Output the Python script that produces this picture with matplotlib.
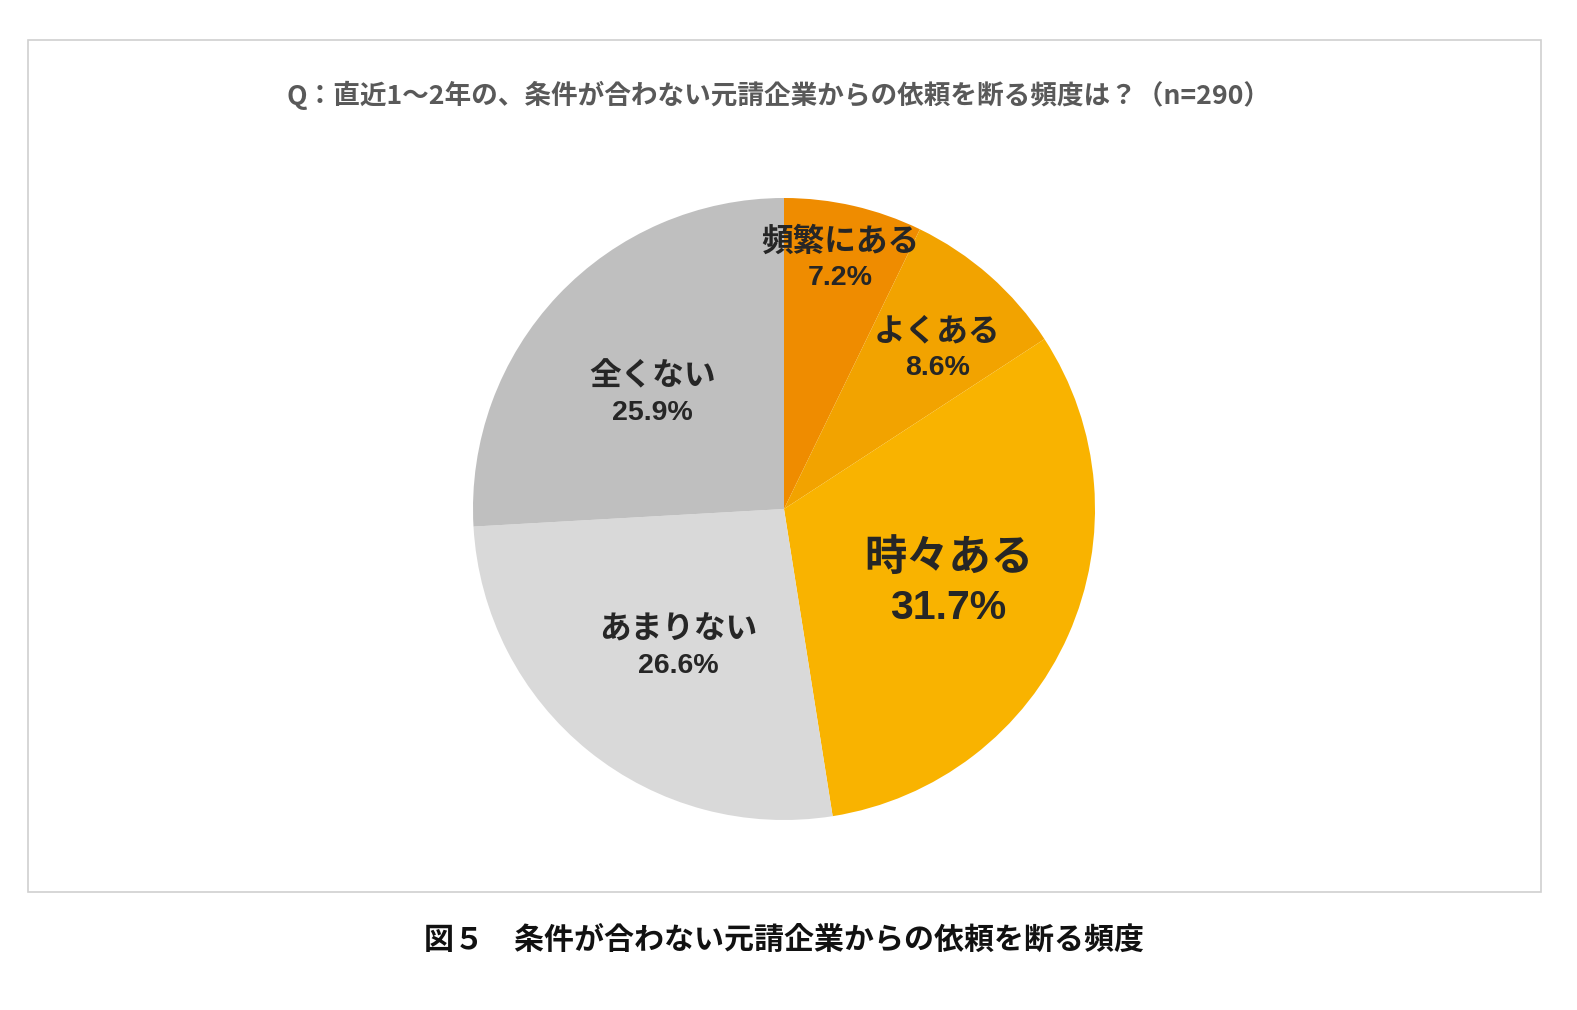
import matplotlib
matplotlib.use("Agg")
import matplotlib.pyplot as plt
import numpy as np
from matplotlib.patches import Rectangle

categories = ["頻繁にある", "よくある", "時々ある", "あまりない", "全くない"]
values = [7.2, 8.6, 31.7, 26.6, 25.9]
pct_labels = ["7.2%", "8.6%", "31.7%", "26.6%", "25.9%"]
colors = ["#EF8C00", "#F2A300", "#F9B300", "#D9D9D9", "#BFBFBF"]
title = "Q：直近1～2年の、条件が合わない元請企業からの依頼を断る頻度は？（n=290）"
caption = "図５　条件が合わない元請企業からの依頼を断る頻度"

# label styling (radial positions and sizes)
label_r = [0.82, 0.71, 0.58, 0.56, 0.56]
label_angle_adj = [0.3, -2.5, -0.3, 1.6, 2.4]
name_size = [22.8, 22.8, 30.4, 22.8, 22.8]
pct_size = [20.5, 20.5, 29.5, 20.5, 20.5]
line_off = [13, 13, 18, 13, 13]

W, H = 1577, 1010
fig = plt.figure(figsize=(W / 100, H / 100), dpi=100)
fig.patch.set_facecolor("white")

# frame
fig.patches.append(Rectangle((28 / W, 1 - 892 / H), (1541 - 28) / W, (892 - 40) / H,
                             transform=fig.transFigure, fill=False,
                             edgecolor="#D0D0D0", linewidth=1.2))

cx, cy, R = 784, 509, 311
ax = fig.add_axes([(cx - R) / W, 1 - (cy + R) / H, 2 * R / W, 2 * R / H])
wedges, _ = ax.pie(values, colors=colors, startangle=90, counterclock=False,
                   radius=1.0, wedgeprops=dict(linewidth=0))
ax.set_xlim(-1, 1)
ax.set_ylim(-1, 1)
ax.set_aspect("equal")
ax.axis("off")

jp = ["Noto Sans CJK JP", "DejaVu Sans"]
num = ["Liberation Sans", "Noto Sans CJK JP"]
for i, w in enumerate(wedges):
    ang = np.deg2rad((w.theta1 + w.theta2) / 2 + label_angle_adj[i])
    x = label_r[i] * np.cos(ang)
    y = label_r[i] * np.sin(ang)
    ax.annotate(categories[i], (x, y), xytext=(0, line_off[i]), textcoords="offset points",
                ha="center", va="center", fontsize=name_size[i], fontweight="bold",
                color="#262626", family=jp)
    ax.annotate(pct_labels[i], (x, y), xytext=(0, -line_off[i]), textcoords="offset points",
                ha="center", va="center", fontsize=pct_size[i], fontweight="bold",
                color="#262626", family=num)

fig.text(779 / W, 1 - 95 / H, title, ha="center", va="center", fontsize=19.2,
         fontweight="bold", color="#595959", family=jp)
fig.text(784 / W, 1 - 940 / H, caption, ha="center", va="center", fontsize=21.6,
         fontweight="bold", color="#111111", family=jp)

fig.savefig("out.png", dpi=100, facecolor="white")
